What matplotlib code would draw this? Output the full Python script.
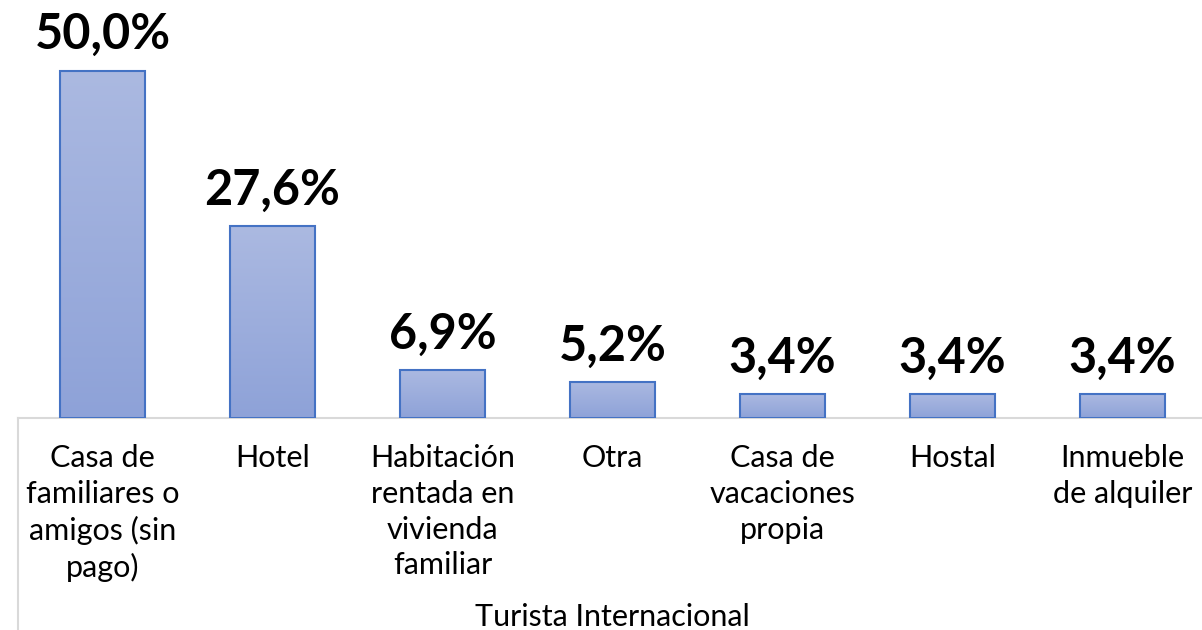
import matplotlib.pyplot as plt
import numpy as np
from matplotlib.colors import LinearSegmentedColormap

# Datos
categorias = ['Casa de\nfamiliares o\namigos (sin\npago)', 'Hotel',
              'Habitación\nrentada en\nvivienda\nfamiliar', 'Otra',
              'Casa de\nvacaciones\npropia', 'Hostal', 'Inmueble\nde alquiler']
valores = [50.0, 27.6, 6.9, 5.2, 3.4, 3.4, 3.4]
etiquetas = ['50,0%', '27,6%', '6,9%', '5,2%', '3,4%', '3,4%', '3,4%']
grupo = 'Turista Internacional'

plt.rcParams['font.family'] = ['Lato', 'DejaVu Sans']

fig = plt.figure(figsize=(12.02, 6.30), dpi=100)
ax = fig.add_axes([17.5 / 1202, 1 - 418 / 630, 1190 / 1202, 418 / 630])

x = np.arange(len(valores))
bars = ax.bar(x, valores, width=0.5, color='none', edgecolor='#4472c4', linewidth=1.5, zorder=3)

# Relleno degradado de cada barra (claro arriba, más oscuro abajo)
cmap = LinearSegmentedColormap.from_list('azul', ['#8ea2d8', '#abb9e1'])
grad = np.linspace(0, 1, 256).reshape(-1, 1)
for bar in bars:
    x0, w, h = bar.get_x(), bar.get_width(), bar.get_height()
    im = ax.imshow(grad, cmap=cmap, origin='lower', aspect='auto',
                   extent=(x0, x0 + w, 0, h), zorder=2)
    im.set_clip_path(bar)

ax.set_xlim(-0.5, len(valores) - 0.5)
ax.set_ylim(0, 60.2)

for xi, v, t in zip(x, valores, etiquetas):
    ax.text(xi, v + 3.1, t, ha='center', va='baseline', fontsize=35, fontweight='bold', color='black')

ax.set_xticks(x)
ax.set_xticklabels(categorias, fontsize=22, linespacing=1.33, va='top')
ax.tick_params(axis='x', length=0, pad=19)
ax.set_yticks([])

for s in ['top', 'right', 'left']:
    ax.spines[s].set_visible(False)
ax.spines['bottom'].set_color('#d9d9d9')
ax.spines['bottom'].set_linewidth(1.5)

# Línea separadora del grupo de categorías
ax.plot([-0.5, -0.5], [0, -0.6], transform=ax.get_xaxis_transform(),
        color='#d9d9d9', linewidth=1.5, clip_on=False)

fig.text(612 / 1202, 1 - 626 / 630, grupo, ha='center', va='baseline', fontsize=22)

fig.savefig('out.png', dpi=100, facecolor='white')
